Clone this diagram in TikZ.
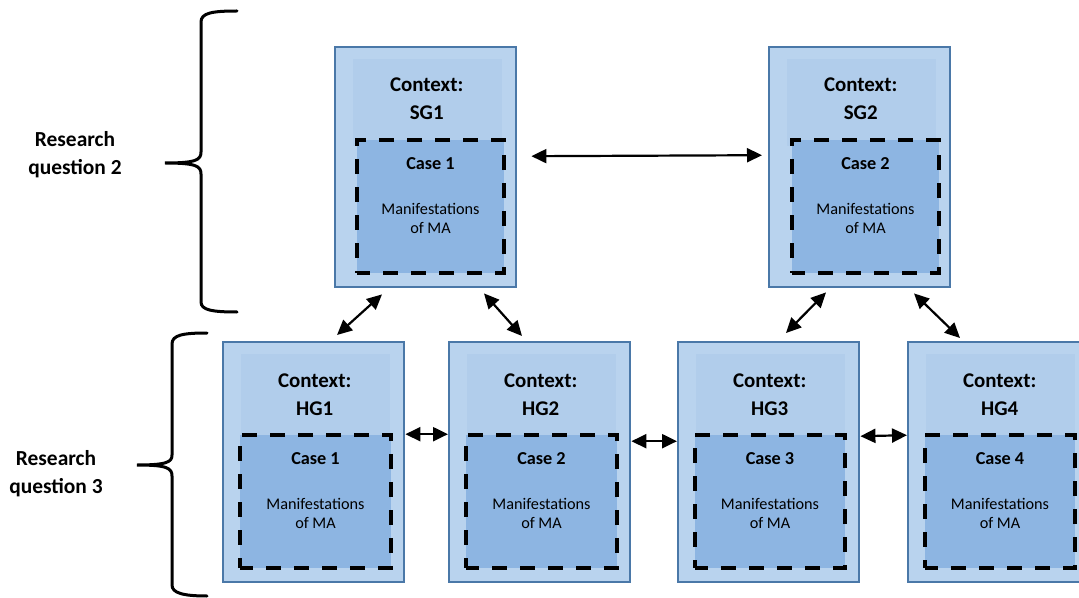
\documentclass[tikz,border=0pt]{standalone}
\usepackage{fontspec}
\setmainfont{Carlito}
\usetikzlibrary{arrows.meta,calc}
\definecolor{outerfill}{HTML}{B9D3EE}
\definecolor{panelfill}{HTML}{B1CDEB}
\definecolor{borderc}{HTML}{4A78A8}
\definecolor{casefill}{HTML}{8DB5E2}
\tikzset{
  outerbox/.style={draw=borderc, line width=2.4bp, fill=outerfill, minimum width=181bp, minimum height=240bp, inner sep=0pt},
  casebox/.style={draw=black, line width=4bp, dash pattern=on 15bp off 13bp, dash phase=2bp, fill=casefill, minimum height=133bp, inner sep=0pt},
  ctxtext/.style={font=\fontsize{21}{24}\selectfont\bfseries, anchor=base, inner sep=0pt},
  casetext/.style={font=\fontsize{18.3}{21}\selectfont\bfseries, anchor=base, inner sep=0pt},
  mantext/.style={font=\fontsize{16.3}{19}\selectfont, anchor=base, inner sep=0pt},
  rqtext/.style={font=\fontsize{21.5}{28}\selectfont\bfseries, align=center, inner sep=0pt},
  arr/.style={line width=2.2bp, {Triangle[length=15bp,width=14bp]}-{Triangle[length=15bp,width=14bp]}},
  bracel/.style={line width=3bp, line cap=round}
}
% name, left x, top y, label, case number, dashed-box left offset, dashed-box width
\newcommand\ctxbox[7]{%
  \node[outerbox, anchor=north west] (#1) at (#2,#3) {};
  \fill[panelfill] ([xshift=19bp,yshift=-13bp]#1.north west) rectangle ([xshift=-15bp,yshift=-100bp]#1.north east);
  \node[casebox, minimum width=#7bp, anchor=north west] (#1c) at ([xshift=#6bp,yshift=-92bp]#1.north west) {};
  \node[ctxtext] (#1t1) at ([xshift=1bp,yshift=-46bp]#1.north) {Context:};
  \node[ctxtext] (#1t2) at ([xshift=1bp,yshift=-74bp]#1.north) {#4};
  \node[casetext] (#1t3) at ([yshift=-31bp]#1c.north) {Case #5};
  \node[mantext] (#1t4) at ([yshift=-76bp]#1c.north) {Manifestations};
  \node[mantext] (#1t5) at ([yshift=-95bp]#1c.north) {of MA};
}
\begin{document}
\begin{tikzpicture}[x=1bp,y=-1bp]
\useasboundingbox (0,0) rectangle (1079,598);
\begin{scope}
\clip (0,0) rectangle (1079,598);
\ctxbox{SG1}{334}{46}{SG1}{1}{21}{147}
\ctxbox{SG2}{768}{46}{SG2}{2}{22}{147}
\ctxbox{HG1}{222}{341}{HG1}{1}{16}{151}
\ctxbox{HG2}{448}{341}{HG2}{2}{16}{151}
\ctxbox{HG3}{677}{341}{HG3}{3}{16}{150}
\ctxbox{HG4}{907}{341}{HG4}{4}{16}{150}
\end{scope}

% research question labels
\node[rqtext] (rq2) at (75,155) {Research\\question 2};
\node[rqtext] (rq3) at (56,474) {Research\\question 3};

% braces
\draw[bracel] (237,11) .. controls (212,11) and (201,13) .. (201,22)
  -- (201,152) .. controls (201,160) and (196,163) .. (165,163)
  .. controls (196,163) and (201,166) .. (201,174)
  -- (201,302) .. controls (201,310) and (212,312) .. (237,312);
\draw[bracel] (207,333) .. controls (183,333) and (172,335) .. (172,344)
  -- (172,455) .. controls (172,462) and (167,465) .. (137,465)
  .. controls (167,465) and (172,468) .. (172,476)
  -- (172,585) .. controls (172,593) and (183,596) .. (207,596);

% connectors
\draw[arr] ([xshift=14bp,yshift=11bp]SG1.east) -- ([xshift=-6bp,yshift=12bp]SG2.west);
\draw[arr] ([xshift=48bp,yshift=-6bp]SG1.south west) -- ([xshift=115bp,yshift=6bp]HG1.north west);
\draw[arr] ([xshift=150bp,yshift=-5bp]SG1.south west) -- ([xshift=74bp,yshift=5bp]HG2.north west);
\draw[arr] ([xshift=58bp,yshift=-4bp]SG2.south west) -- ([xshift=109bp,yshift=8bp]HG3.north west);
\draw[arr] ([xshift=146bp,yshift=-5bp]SG2.south west) -- ([xshift=53bp,yshift=3bp]HG4.north west);
\draw[arr] ([yshift=28bp]HG1.east) -- ([yshift=28bp]HG2.west);
\draw[arr] ([yshift=21bp]HG2.east) -- ([yshift=21bp]HG3.west);
\draw[arr] ([yshift=26bp]HG3.east) -- ([yshift=27bp]HG4.west);
\end{tikzpicture}
\end{document}
